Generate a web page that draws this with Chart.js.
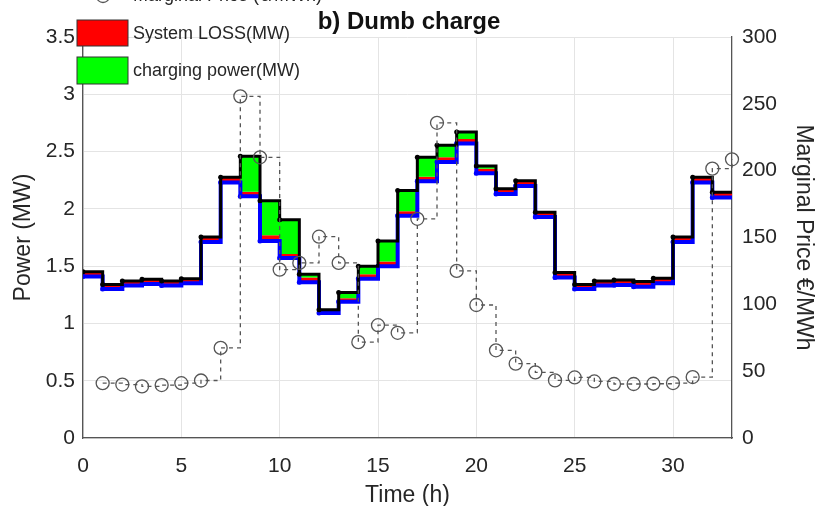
<!DOCTYPE html>
<html>
<head>
<meta charset="utf-8">
<script src="https://cdn.jsdelivr.net/npm/chart.js@4.4.0/dist/chart.umd.min.js"></script>
<style>
  html, body { margin: 0; padding: 0; background: #fff; }
</style>
</head>
<body>
<canvas id="chart" width="817" height="506"></canvas>
<script>
// hour t covers the interval [t, t+1], t = 0..32
const baseLoad = [1.41, 1.30, 1.33, 1.345, 1.33, 1.35, 1.71, 2.23, 2.11, 1.72, 1.57, 1.36, 1.09, 1.19, 1.39, 1.50, 1.94,
                  2.24, 2.41, 2.57, 2.31, 2.13, 2.20, 1.93, 1.40, 1.30, 1.33, 1.335, 1.32, 1.35, 1.71, 2.23, 2.10]
const systemLoss = [0.04, 0.04, 0.04, 0.04, 0.04, 0.04, 0.045, 0.045, 0.04, 0.05, 0.035, 0.04, 0.03, 0.03, 0.04, 0.04, 0.04,
                    0.04, 0.04, 0.04, 0.04, 0.045, 0.045, 0.04, 0.045, 0.04, 0.04, 0.045, 0.045, 0.045, 0.045, 0.045, 0.045]
const chargingPower = [0, 0, 0, 0, 0, 0, 0, 0, 0.31, 0.30, 0.30, 0.03, 0, 0.05, 0.07, 0.18, 0.18,
                       0.17, 0.105, 0.06, 0.025, 0, 0, 0, 0, 0, 0, 0, 0, 0, 0, 0, 0]
// marginal price at hours 1..33
const marginalPrice = [41, 40, 38.6, 39.6, 41, 43, 67.4, 255.6, 210, 126, 131, 150.6, 131, 71.7, 84.4, 78.7, 164,
                       235.8, 125, 99.5, 65.6, 55.6, 49.1, 43.1, 45.3, 42.3, 40.4, 40.4, 40.6, 41.1, 45.6, 201.5, 208.5]
const xTicks = [0, 5, 10, 15, 20, 25, 30]

// step lines: one point per hour start plus a closing point at the end
function stepPoints(values) {
    const pts = values.map(function (v, i) { return { x: i, y: v } })
    pts.push({ x: values.length, y: values[values.length - 1] })
    return pts
}
const lossTop = baseLoad.map(function (v, i) { return v + systemLoss[i] })
const totalLoad = lossTop.map(function (v, i) { return v + chargingPower[i] })
const pricePoints = marginalPrice.map(function (v, i) { return { x: i + 1, y: v } })
const noLastDot = stepPoints(baseLoad).map(function (p, i) { return i === baseLoad.length ? 0 : 2.5 })

const textColor = '#262626'
const axisColor = '#555'
const gridColor = '#e4e4e4'
const fontFamily = '"Liberation Sans", Arial, sans-serif'

// title + legend drawn in the top-left like the original figure
const overlay = {
    id: 'overlay',
    afterDraw: function (chart) {
        const ctx = chart.ctx
        ctx.save()
        ctx.fillStyle = '#111'
        ctx.font = 'bold 24px ' + fontFamily
        ctx.textAlign = 'center'
        ctx.textBaseline = 'middle'
        ctx.fillText('b) Dumb charge', 409, 22)

        ctx.font = '18px ' + fontFamily
        ctx.textAlign = 'left'
        ctx.fillStyle = textColor
        // marginal price entry (cut by the top edge)
        ctx.strokeStyle = axisColor
        ctx.lineWidth = 1.3
        ctx.setLineDash([4, 4])
        ctx.beginPath()
        ctx.moveTo(78, -4)
        ctx.lineTo(128, -4)
        ctx.stroke()
        ctx.setLineDash([])
        ctx.beginPath()
        ctx.arc(103, -4, 6.5, 0, Math.PI * 2)
        ctx.stroke()
        ctx.fillText('Marginal Price (€/MWh)', 133, -4)

        ctx.lineWidth = 1
        ctx.strokeStyle = '#333'
        ctx.fillStyle = '#ff0000'
        ctx.fillRect(77, 20, 51, 26)
        ctx.strokeRect(77, 20, 51, 26)
        ctx.fillStyle = '#00ff00'
        ctx.fillRect(77, 57, 51, 27)
        ctx.strokeRect(77, 57, 51, 27)
        ctx.fillStyle = textColor
        ctx.fillText('System LOSS(MW)', 133, 34)
        ctx.fillText('charging power(MW)', 133, 71)
        ctx.restore()
    }
}

function plainTick(value) {
    return String(value)
}

new Chart(document.getElementById('chart'), {
    type: 'line',
    data: {
        datasets: [
            {
                label: 'Marginal Price (€/MWh)',
                data: pricePoints,
                yAxisID: 'y1',
                stepped: true,
                borderColor: axisColor,
                borderWidth: 1.3,
                borderDash: [4, 4],
                pointRadius: 6.5,
                pointBorderWidth: 1.3,
                pointBorderColor: axisColor,
                pointBackgroundColor: 'rgba(0,0,0,0)',
                fill: false,
                clip: false
            },
            {
                label: 'charging power(MW)',
                data: stepPoints(totalLoad),
                yAxisID: 'y',
                stepped: true,
                borderColor: '#000',
                borderWidth: 3,
                pointRadius: noLastDot,
                pointBackgroundColor: '#000',
                pointBorderWidth: 0,
                fill: '+1',
                backgroundColor: '#00ff00'
            },
            {
                label: 'System LOSS(MW)',
                data: stepPoints(lossTop),
                yAxisID: 'y',
                stepped: true,
                borderWidth: 0,
                borderColor: 'rgba(0,0,0,0)',
                pointRadius: 0,
                fill: '+1',
                backgroundColor: '#ff0000'
            },
            {
                label: 'base load',
                data: stepPoints(baseLoad),
                yAxisID: 'y',
                stepped: true,
                borderColor: '#0000ff',
                borderWidth: 4,
                pointRadius: noLastDot,
                pointBackgroundColor: '#0000ff',
                pointBorderWidth: 0,
                fill: false
            }
        ]
    },
    options: {
        responsive: false,
        animation: false,
        layout: { padding: { top: 37, left: 0, right: 0, bottom: 0 } },
        plugins: {
            legend: { display: false },
            tooltip: { enabled: false },
            filler: { drawTime: 'beforeDatasetsDraw' }
        },
        scales: {
            x: {
                type: 'linear',
                min: 0,
                max: 33,
                afterFit: function (scale) { scale.height = 68 },
                afterBuildTicks: function (scale) {
                    scale.ticks = xTicks.map(function (v) { return { value: v } })
                },
                grid: { color: gridColor, drawTicks: false },
                border: { color: axisColor, width: 1.3 },
                ticks: { color: textColor, padding: 16, callback: plainTick, font: { size: 21, family: fontFamily } },
                title: {
                    display: true,
                    text: 'Time (h)',
                    color: textColor,
                    padding: { top: 0, bottom: -3 },
                    font: { size: 23, family: fontFamily }
                }
            },
            y: {
                position: 'left',
                min: 0,
                max: 3.5,
                afterFit: function (scale) { scale.width = 83 },
                ticks: { stepSize: 0.5, color: textColor, padding: 8, callback: plainTick, font: { size: 21, family: fontFamily } },
                grid: { color: gridColor, drawTicks: false },
                border: { color: axisColor, width: 1.3 },
                title: {
                    display: true,
                    text: 'Power (MW)',
                    color: textColor,
                    padding: { top: 10, bottom: 0 },
                    font: { size: 23, family: fontFamily }
                }
            },
            y1: {
                position: 'right',
                min: 0,
                max: 300,
                afterFit: function (scale) { scale.width = 85 },
                ticks: { stepSize: 50, color: textColor, padding: 10, callback: plainTick, font: { size: 21, family: fontFamily } },
                grid: { display: false, drawTicks: false },
                border: { color: axisColor, width: 1.3 },
                title: {
                    display: true,
                    text: 'Marginal Price €/MWh',
                    color: textColor,
                    padding: { top: 0, bottom: 0 },
                    font: { size: 23, family: fontFamily }
                }
            }
        }
    },
    plugins: [overlay]
})
</script>
</body>
</html>
